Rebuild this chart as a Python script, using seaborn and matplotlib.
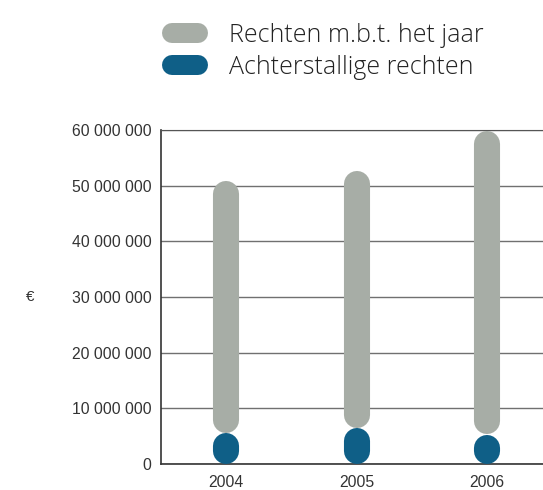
import pandas as pd
import matplotlib
matplotlib.use('Agg')
import matplotlib.pyplot as plt
import seaborn as sns
from matplotlib.lines import Line2D

# data (euro)
years = ['2004', '2005', '2006']
achterstallig = [5.6e6, 6.4e6, 5.3e6]
rechten_jaar = [45.2e6, 46.2e6, 54.5e6]
yticks = [0, 10e6, 20e6, 30e6, 40e6, 50e6, 60e6]
ytick_labels = ['0', '10 000 000', '20 000 000', '30 000 000',
                '40 000 000', '50 000 000', '60 000 000']

GRAY = '#a7ada6'
BLUE = '#0f5f87'

sns.set_style('white')
plt.rcParams['font.family'] = ['Liberation Sans', 'DejaVu Sans']

df = pd.DataFrame({'year': years, 'achter': achterstallig, 'jaar': rechten_jaar})
df['total'] = df['achter'] + df['jaar']

fig = plt.figure(figsize=(5.43, 4.90), dpi=100)
ax = fig.add_axes([161 / 543, 26 / 490, 382 / 543, 334 / 490])

# seaborn places the stacked bars; they get redrawn as capsules below
sns.barplot(data=df, x='year', y='total', color=GRAY, width=0.2, ax=ax,
            saturation=1)
sns.barplot(data=df, x='year', y='achter', color=BLUE, width=0.2, ax=ax,
            saturation=1)

ax.set_xlim(-0.5, 2.43)
ax.set_ylim(0, 60e6)

# round-capped capsules with the same footprint as each bar segment
y_per_px = 60e6 / 334
n = len(years)
for i, p in enumerate(list(ax.patches)):
    xc = p.get_x() + p.get_width() / 2
    w_px = p.get_width() / (2.93 / 382)
    if i < n:
        y0 = df['achter'].iloc[i]
        y1 = y0 + df['jaar'].iloc[i]
        color, z = GRAY, 3
    else:
        y0, y1 = 0, p.get_height()
        color, z = BLUE, 4
    p.set_visible(False)
    cap = w_px / 2 * y_per_px
    a, b = y0 + cap, y1 - cap
    if b < a:
        a = b = (y0 + y1) / 2
    ax.plot([xc, xc], [a, b], color=color, lw=w_px * 0.72,
            solid_capstyle='round', zorder=z)

ax.set_yticks(yticks)
ax.set_yticklabels(ytick_labels)
ax.grid(axis='y', color='#707070', linewidth=1, zorder=1)
ax.set_axisbelow(True)
ax.spines['right'].set_visible(False)
ax.spines['top'].set_color('#555555')
ax.spines['left'].set_color('#333333')
ax.spines['bottom'].set_color('#333333')
ax.spines['left'].set_linewidth(1.2)
ax.spines['bottom'].set_linewidth(1.2)
ax.tick_params(axis='y', length=4, width=1, color='#333333',
               labelsize=11.3, labelcolor='#333333', pad=3)
ax.tick_params(axis='x', length=0, labelsize=11.3, labelcolor='#333333', pad=8)
ax.set_xlabel('')
ax.set_ylabel('€', rotation=0, fontsize=11, color='#333333', labelpad=30,
              va='center')

handles = [Line2D([0], [0], color=GRAY, lw=14.4, solid_capstyle='round'),
           Line2D([0], [0], color=BLUE, lw=14.4, solid_capstyle='round')]
fig.legend(handles, ['Rechten m.b.t. het jaar', 'Achterstallige rechten'],
           loc='upper left', bbox_to_anchor=(154 / 543, 1 - 5 / 490),
           borderaxespad=0.3, frameon=False, handlelength=1.05,
           handletextpad=1.25, labelspacing=0.3,
           prop={'family': 'Open Sans', 'size': 18, 'weight': 'light'},
           labelcolor='#222222')

fig.savefig('out.png', dpi=100)
